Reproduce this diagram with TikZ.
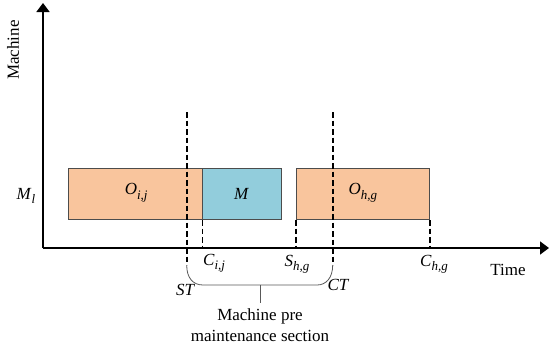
\documentclass[tikz,border=0pt]{standalone}
\usepackage{fontspec}
\setmainfont{Liberation Serif}
\usetikzlibrary{arrows.meta}
\definecolor{orangefill}{HTML}{F9C59D}
\definecolor{bluefill}{HTML}{92CDDC}
\newcommand\ivar[2]{\textit{#1}\raisebox{-0.25em}{\fontsize{13}{15}\selectfont\textit{#2}}}
\begin{document}
\begin{tikzpicture}[x=1pt,y=-1pt,
  axis/.style={line width=1.8pt,-{Triangle[length=9pt,width=13pt]}},
  task/.style={draw=black!70,line width=0.7pt,anchor=north west,inner sep=0pt},
  dline/.style={line width=1.7pt,dash pattern=on 5.5pt off 3pt},
  brace/.style={draw=black!65,line width=0.8pt},
  lbl/.style={font=\fontsize{17}{19}\selectfont,inner sep=0pt}]
\useasboundingbox (0,0) rectangle (550,346);
% axes
\coordinate (origin) at (43,248);
\coordinate (ytop) at (43,3);
\coordinate (xend) at (549,248);
\draw[axis] (origin) -- (ytop);
\draw[axis] (origin) -- (xend);
\node[lbl,rotate=90] (ylab) at (13,50) {Machine};
\node[lbl] (xlab) at (508,270) {Time};
\node[lbl] (ml) at (26,196) {\ivar{M}{l}};
% tasks
\node[task,fill=orangefill,minimum width=133.7pt,minimum height=51.6pt] (oij) at (68,167.7) {};
\node[task,fill=bluefill,minimum width=79.3pt,minimum height=51.6pt] (m) at (201.7,167.7) {};
\node[task,fill=orangefill,minimum width=133.6pt,minimum height=51.6pt] (ohg) at (295.7,167.7) {};
\node[lbl] at ([xshift=1pt,yshift=1pt]oij.center) {\ivar{O}{i,j}};
\node[lbl] at (m.center) {\textit{M}};
\node[lbl] at ([yshift=1pt]ohg.center) {\ivar{O}{h,g}};
% short dashed markers
\draw[dline] (oij.south east) -- (oij.south east |- origin);
\draw[dline] (ohg.south west) -- (ohg.south west |- origin);
\draw[dline] (ohg.south east) -- (ohg.south east |- origin);
\node[lbl] (cij) at (214,263) {\ivar{C}{i,j}};
\node[lbl] (shg) at (297,264) {\ivar{S}{h,g}};
\node[lbl] (chg) at (434,264) {\ivar{C}{h,g}};
% ST / CT dashed lines
\coordinate (sttop) at (186.7,112);
\coordinate (stbot) at (186.7,265);
\coordinate (cttop) at (332.7,112);
\coordinate (ctbot) at (332.7,265);
\draw[dline] (sttop) -- (stbot);
\draw[dline] (cttop) -- (ctbot);
% brace
\coordinate (bl) at (203,285);
\coordinate (br) at (317,285);
\coordinate (bm) at (260,285);
\coordinate (btip) at (260,303);
\draw[brace] (stbot) .. controls (186.7,278) and (193,285) .. (bl) -- (br) .. controls (326,285) and (332.7,278) .. (ctbot);
\draw[brace] (bm) -- (btip);
\node[lbl] (st) at (185.5,290) {\textit{ST}};
\node[lbl] (ct) at (338.5,285) {\textit{CT}};
\node[lbl,align=center,font=\fontsize{17}{21}\selectfont] (sec) at (260,325.5) {Machine pre\\maintenance section};
\end{tikzpicture}
\end{document}
